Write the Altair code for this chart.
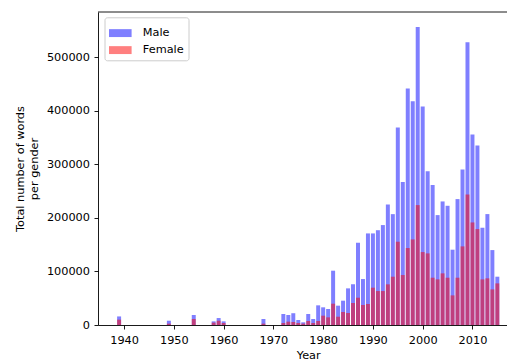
import altair as alt
import pandas as pd

years = [1939, 1949, 1954, 1958, 1959, 1960, 1968, 1972, 1973, 1974, 1975, 1976,
         1977, 1978, 1979, 1980, 1981, 1982, 1983, 1984, 1985, 1986, 1987, 1988,
         1989, 1990, 1991, 1992, 1993, 1994, 1995, 1996, 1997, 1998, 1999, 2000,
         2001, 2002, 2003, 2004, 2005, 2006, 2007, 2008, 2009, 2010, 2011, 2012,
         2013, 2014, 2015]
male = [16000, 8000, 18700, 6800, 13000, 6800, 11200, 20500, 18700, 22000, 9300, 5000,
        20500, 11200, 36700, 33000, 29900, 101400, 36100, 45400, 68400, 75900, 153600, 85800,
        171000, 171000, 177000, 186600, 225000, 207000, 368800, 266800, 441500, 417900, 556600, 408000,
        287300, 261200, 205200, 230700, 222600, 140600, 235100, 290400, 528000, 355700, 335200, 181600,
        207100, 139900, 90200]
female = [10000, 2500, 11200, 4400, 8000, 3700, 2500, 3700, 6200, 5600, 3700, 2500,
          7500, 3700, 7500, 17400, 14300, 39800, 15500, 24300, 22400, 41000, 51000, 37300,
          39200, 69700, 63400, 63400, 75900, 90200, 155500, 93300, 143700, 159800, 223900, 136200,
          133700, 88300, 85200, 96400, 88300, 55300, 88300, 146800, 243800, 191500, 179100, 85200,
          87100, 66500, 77700]
genders = ["Male", "Female"]
x_ticks = [1940, 1950, 1960, 1970, 1980, 1990, 2000, 2010]
y_ticks = [0, 100000, 200000, 300000, 400000, 500000]

rows = []
for g, vals in zip(genders, [male, female]):
    for y, v in zip(years, vals):
        rows.append({"Year": y, "Words": v, "Gender": g})
df = pd.DataFrame(rows)

ymax = 1.05 * max(male)
W, H = 409, 313
FONT = "DejaVu Sans"
FS = 11.3

bars = alt.Chart(df).transform_calculate(
    x0="datum.Year - 0.4", x1="datum.Year + 0.4"
).mark_rect(opacity=0.5).encode(
    x=alt.X("x0:Q", scale=alt.Scale(domain=[1934.76, 2016.94], nice=False, zero=False),
            axis=alt.Axis(values=x_ticks, format="d", title="Year", grid=False,
                          titleX=210.2, titleY=33, titleBaseline="alphabetic",
                          titleAnchor="start", titleAlign="center")),
    x2="x1:Q",
    y=alt.Y("Words:Q", scale=alt.Scale(domain=[0, ymax], nice=False),
            axis=alt.Axis(values=y_ticks, format="d",
                          title=["Total number of words", "per gender"], grid=False,
                          titleAngle=270, titleX=-75, titleY=156.5, titleAlign="center",
                          titleBaseline="alphabetic", titleLineHeight=14, titleAnchor="start")),
    y2=alt.datum(0),
    color=alt.Color("Gender:N", scale=alt.Scale(domain=genders, range=["blue", "red"]),
                    legend=alt.Legend(orient="none", legendX=6.5, legendY=5.3, title=None,
                                      symbolType="M-1,-0.35L1,-0.35L1,0.35L-1,0.35Z",
                                      symbolSize=511, symbolOpacity=0.5, symbolStrokeWidth=0,
                                      labelFont=FONT, labelFontSize=FS, labelColor="black",
                                      labelOffset=11, padding=4.3, rowPadding=0,
                                      fillColor="rgba(255,255,255,0.8)", strokeColor="#cccccc",
                                      cornerRadius=2.5)),
)

top = alt.Chart(pd.DataFrame({"a": [0]})).mark_rule(color="black", strokeWidth=0.9).encode(
    y=alt.value(0), x=alt.value(0), x2=alt.value(W)
)

chart = alt.layer(bars, top).properties(
    width=W, height=H,
    autosize=alt.AutoSizeParams(type="none"),
    padding={"left": 98, "top": 12, "right": 0, "bottom": 35},
).configure_view(stroke=None).configure_axis(
    labelFont=FONT, labelFontSize=FS, labelColor="black",
    titleFont=FONT, titleFontSize=FS, titleColor="black", titleFontWeight="normal",
    domainColor="black", domainWidth=0.9, tickColor="black", tickWidth=0.9, tickSize=4,
    labelPadding=4.5,
).configure_axisX(labelPadding=5, labelFlush=False).configure_axisY(labelPadding=4.5)

chart.save("out.html", embed_options={"renderer": "svg", "actions": False})
